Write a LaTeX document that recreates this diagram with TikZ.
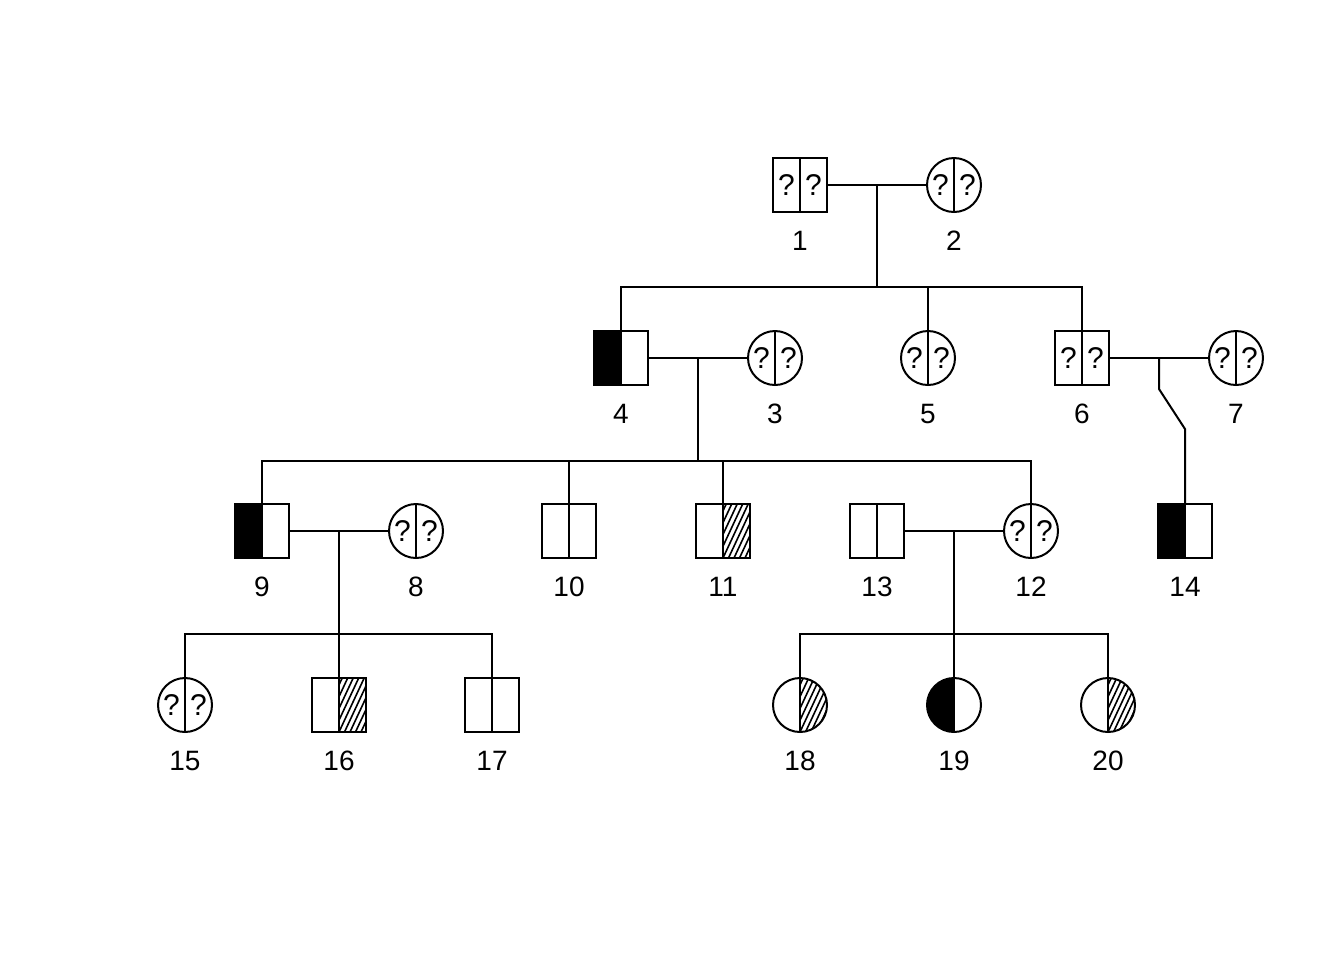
\documentclass[tikz,border=0pt]{standalone}
\usepackage{fontspec}
\setmainfont{Liberation Sans}
\newcommand\FillLeftM[2]{\fill (#1-27,#2-27) rectangle (#1,#2+27);}
\newcommand\FillLeftF[2]{\begin{scope}\clip (#1-27,#2-27) rectangle (#1,#2+27); \fill (#1,#2) circle[radius=27];\end{scope}}
\newcommand\HatchRightM[2]{\begin{scope}\clip (#1,#2-27) rectangle (#1+27,#2+27);
  \foreach \t in {-33,-27.5,...,33} \draw[hatchline] (#1+\t,#2+27) -- ++(25.2,-54);\end{scope}}
\newcommand\HatchRightF[2]{\begin{scope}\clip (#1,#2) circle[radius=27]; \clip (#1,#2-27) rectangle (#1+27,#2+27);
  \foreach \t in {-33,-27.5,...,33} \draw[hatchline] (#1+\t,#2+27) -- ++(25.2,-54);\end{scope}}
\newcommand\Qs[3]{\node[qm] (#1-ql) at (#2-13.5,#3) {?}; \node[qm] (#1-qr) at (#2+13.5,#3) {?};}
\newcommand\Person[5]{\node[#2] (#1) at (#3,#4) {};
  \draw (#3,#4-27) -- (#3,#4+27);
  \node[lbl] (#1-lab) at (#3,#4+56) {#5};}
\begin{document}
\begin{tikzpicture}[x=0.5pt,y=-0.5pt, line width=1pt,
  male/.style={draw, rectangle, minimum size=27pt, inner sep=0pt, outer sep=0pt},
  female/.style={draw, circle, minimum size=27pt, inner sep=0pt, outer sep=0pt},
  lbl/.style={font=\fontsize{14}{16}\selectfont, inner sep=0pt},
  qm/.style={font=\fontsize{15}{18}\selectfont, inner sep=0pt},
  hatchline/.style={line width=0.8pt}]
\useasboundingbox[fill=white] (0,0) rectangle (1344,960);

% generation 1
\Qs{p1}{800}{185}\Person{p1}{male}{800}{185}{1}
\Qs{p2}{954}{185}\Person{p2}{female}{954}{185}{2}
% generation 2
\FillLeftM{621}{358}\Person{p4}{male}{621}{358}{4}
\Qs{p3}{775}{358}\Person{p3}{female}{775}{358}{3}
\Qs{p5}{928}{358}\Person{p5}{female}{928}{358}{5}
\Qs{p6}{1082}{358}\Person{p6}{male}{1082}{358}{6}
\Qs{p7}{1236}{358}\Person{p7}{female}{1236}{358}{7}
% generation 3
\FillLeftM{262}{531}\Person{p9}{male}{262}{531}{9}
\Qs{p8}{416}{531}\Person{p8}{female}{416}{531}{8}
\Person{p10}{male}{569}{531}{10}
\HatchRightM{723}{531}\Person{p11}{male}{723}{531}{11}
\Person{p13}{male}{877}{531}{13}
\Qs{p12}{1031}{531}\Person{p12}{female}{1031}{531}{12}
\FillLeftM{1185}{531}\Person{p14}{male}{1185}{531}{14}
% generation 4
\Qs{p15}{185}{705}\Person{p15}{female}{185}{705}{15}
\HatchRightM{339}{705}\Person{p16}{male}{339}{705}{16}
\Person{p17}{male}{492}{705}{17}
\HatchRightF{800}{705}\Person{p18}{female}{800}{705}{18}
\FillLeftF{954}{705}\Person{p19}{female}{954}{705}{19}
\HatchRightF{1108}{705}\Person{p20}{female}{1108}{705}{20}

% family 1 x 2
\draw (p1.east) -- (p2.west);
\coordinate (m12) at (877,185); \coordinate (s12) at (877,287);
\draw (m12) -- (s12);
\draw (p4.north) -- (p4.north |- s12) -- (p6.north |- s12) -- (p6.north);
\draw (p5.north) -- (p5.north |- s12);
% family 4 x 3
\draw (p4.east) -- (p3.west);
\coordinate (m43) at (698,358); \coordinate (s43) at (698,461);
\draw (m43) -- (s43);
\draw (p9.north) -- (p9.north |- s43) -- (p12.north |- s43) -- (p12.north);
\draw (p10.north) -- (p10.north |- s43);
\draw (p11.north) -- (p11.north |- s43);
% family 6 x 7
\draw (p6.east) -- (p7.west);
\coordinate (m67) at (1159,358); \coordinate (k67) at (1159,389); \coordinate (k14) at (1185,429);
\draw (m67) -- (k67) -- (k14) -- (p14.north);
% family 9 x 8
\draw (p9.east) -- (p8.west);
\coordinate (m98) at (339,531); \coordinate (s98) at (339,634);
\draw (m98) -- (s98);
\draw (p15.north) -- (p15.north |- s98) -- (p17.north |- s98) -- (p17.north);
\draw (p16.north) -- (p16.north |- s98);
% family 13 x 12
\draw (p13.east) -- (p12.west);
\coordinate (m1312) at (954,531); \coordinate (s1312) at (954,634);
\draw (m1312) -- (s1312);
\draw (p18.north) -- (p18.north |- s1312) -- (p20.north |- s1312) -- (p20.north);
\draw (p19.north) -- (p19.north |- s1312);
\end{tikzpicture}
\end{document}
